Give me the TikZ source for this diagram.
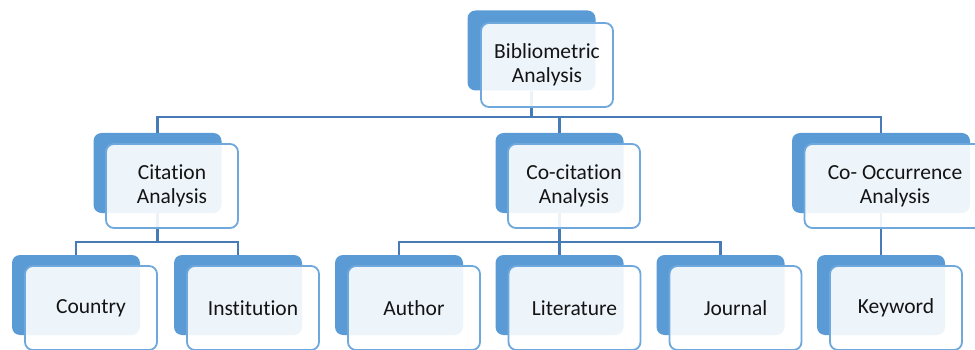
\documentclass[tikz,border=0pt]{standalone}
\usepackage{xcolor}
\usepackage{tikz}
\usepackage{fontspec}
\setmainfont[Ligatures=NoCommon]{Carlito}
\definecolor{shadeblue}{HTML}{5B9BD5}
\definecolor{rimblue}{HTML}{6FA8DC}
\definecolor{wireblue}{HTML}{477BB5}

\begin{document}
\begin{tikzpicture}[x=1pt,y=-1pt]
			\tikzstyle{back} = [fill=shadeblue, rounded corners=8pt, minimum width=128pt, minimum height=80pt, inner sep=0pt]
			\tikzstyle{front} = [draw=rimblue, line width=1.8pt, fill=white, fill opacity=0.9, text opacity=1, rounded corners=8pt, minimum width=132pt, minimum height=84pt, inner sep=0pt, align=center, text=black!92, font=\fontsize{21.5}{24}\selectfont]
			\tikzset{link/.style = {draw=wireblue, line width=2.1pt}}
			
			\useasboundingbox (0,0) rectangle (975,350);
			
			\node[back](bibback) at (531.5,50.5) {};
			\node[back](citback) at (157.5,173) {};
			\node[back](cocitback) at (559.5,173) {};
			\node[back, minimum width=178pt](coocback) at (881,173) {};
			\node[back](countryback) at (76,295) {};
			\node[back](instback) at (238,295) {};
			\node[back](authorback) at (399,295) {};
			\node[back](litback) at (559.5,295) {};
			\node[back](journalback) at (720.5,295) {};
			\node[back](keywordback) at (881,295) {};
			
			\draw[link](bibback.south) -- ++(0,26.5) -| (citback.north);
			\draw[link](bibback.south) -- ++(0,26.5) -| (cocitback.north);
			\draw[link](bibback.south) -- ++(0,26.5) -| (coocback.north);
			
			\draw[link](citback.south) -- ++(0,28.5) -| (countryback.north);
			\draw[link](citback.south) -- ++(0,28.5) -| (instback.north);
			
			\draw[link](cocitback.south) -- ++(0,28.5) -| (authorback.north);
			\draw[link](cocitback.south) -- ++(0,28.5) -| (litback.north);
			\draw[link](cocitback.south) -- ++(0,28.5) -| (journalback.north);
			
			\draw[link](coocback.south) -- (keywordback.north);
			
			\node[front](bib) at (547,65) {Bibliometric\\Analysis};
			\node[front](cit) at (172,186) {Citation\\Analysis};
			\node[front](cocit) at (574,186) {Co-citation\\Analysis};
			\node[front, minimum width=181pt](cooc) at (895,186) {Co- Occurrence\\Analysis};
			\node[front](country) at (91,308) {Country};
			\node[front](inst) at (253,308) {Institution};
			\node[front](author) at (414,308) {Author};
			\node[front](lit) at (574.5,308) {Literature};
			\node[front](journal) at (735.5,308) {Journal};
			\node[front](keyword) at (896,308) {Keyword};
			
\end{tikzpicture}
\end{document}
